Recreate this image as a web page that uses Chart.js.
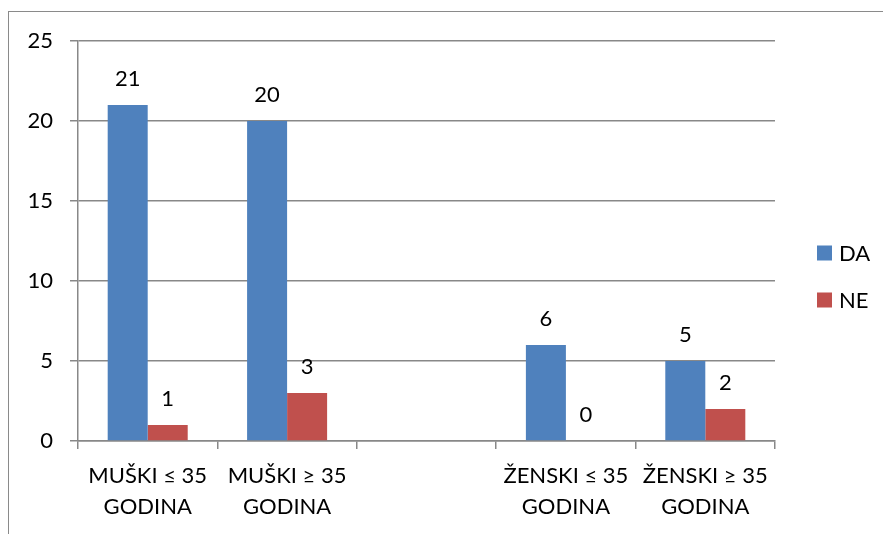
<!DOCTYPE html>
<html>
<head>
<meta charset="utf-8">
<script src="https://cdn.jsdelivr.net/npm/chart.js@4.4.1/dist/chart.umd.min.js"></script>
<style>
  html, body { margin: 0; padding: 0; background: #fff; overflow: hidden; }
  #frame {
    position: absolute; left: 8px; top: 11px; width: 900px; height: 600px;
    border-left: 1.5px solid #8a8a8a; border-top: 1.5px solid #8a8a8a;
  }
  #wrap { position: absolute; left: 0; top: 0; width: 883px; height: 534px; }
</style>
</head>
<body>
<div id="frame"></div>
<div id="wrap"><canvas id="chart"></canvas></div>
<script>
// categories (the empty one keeps the gap in the middle)
const categories = [
  ['MUŠKI ≤ 35', 'GODINA'],
  ['MUŠKI ≥ 35', 'GODINA'],
  '',
  ['ŽENSKI ≤ 35', 'GODINA'],
  ['ŽENSKI ≥ 35', 'GODINA']
];
const daValues = [21, 20, null, 6, 5];
const neValues = [1, 3, null, 0, 2];
const yTicks = [0, 5, 10, 15, 20, 25];

const FONT = 'Lato, "Liberation Sans", sans-serif';
const FONT_SIZE = 22;
const GRID = '#888888';

// value labels above each bar
const valueLabels = {
  id: 'valueLabels',
  afterDatasetsDraw(chart) {
    const ctx = chart.ctx;
    ctx.save();
    ctx.font = FONT_SIZE + 'px ' + FONT;
    ctx.fillStyle = '#000';
    ctx.textAlign = 'center';
    ctx.textBaseline = 'alphabetic';
    chart.data.datasets.forEach((ds, i) => {
      chart.getDatasetMeta(i).data.forEach((bar, j) => {
        if (ds.data[j] === null) return;
        ctx.fillText(String(ds.data[j]), bar.x, bar.y - 19);
      });
    });
    ctx.restore();
  }
};

// legend on the right, like the spreadsheet one
const sideLegend = {
  id: 'sideLegend',
  afterDraw(chart) {
    const ctx = chart.ctx;
    const x = chart.chartArea.right + 42;
    const rows = [253, 300];
    ctx.save();
    ctx.font = FONT_SIZE + 'px ' + FONT;
    ctx.textAlign = 'left';
    ctx.textBaseline = 'middle';
    chart.data.datasets.forEach((ds, i) => {
      const y = rows[i];
      ctx.fillStyle = ds.backgroundColor;
      ctx.fillRect(x, y - 7.5, 15, 15);
      ctx.fillStyle = '#000';
      ctx.fillText(ds.label, x + 22, y + 1);
    });
    ctx.restore();
  }
};

const ctx = document.getElementById('chart').getContext('2d');
new Chart(ctx, {
  type: 'bar',
  data: {
    labels: categories,
    datasets: [
      { label: 'DA', data: daValues, backgroundColor: '#4F81BD' },
      { label: 'NE', data: neValues, backgroundColor: '#C0504D' }
    ]
  },
  options: {
    responsive: true,
    maintainAspectRatio: false,
    animation: false,
    datasets: { bar: { categoryPercentage: 0.574, barPercentage: 1 } },
    layout: { padding: { left: 0, top: 41, right: 108, bottom: 0 } },
    scales: {
      x: {
        grid: { display: true, drawOnChartArea: false, drawTicks: true, tickLength: 8, color: GRID, lineWidth: 1.5, offset: true },
        border: { display: true, color: GRID, width: 1.5 },
        ticks: { color: '#000', font: { family: FONT, size: FONT_SIZE, lineHeight: 1.38 }, padding: 12, maxRotation: 0, autoSkip: false },
        afterFit(scale) { scale.height = 93; }
      },
      y: {
        min: 0, max: 25,
        afterBuildTicks(scale) { scale.ticks = yTicks.map(v => ({ value: v })); },
        grid: { color: GRID, lineWidth: 1.5, tickLength: 8 },
        border: { display: true, color: GRID, width: 1.5 },
        ticks: { color: '#000', font: { family: FONT, size: FONT_SIZE }, padding: 17 },
        afterFit(scale) { scale.width = 78; }
      }
    },
    plugins: {
      legend: { display: false },
      tooltip: { enabled: false }
    }
  },
  plugins: [valueLabels, sideLegend]
});
</script>
</body>
</html>
